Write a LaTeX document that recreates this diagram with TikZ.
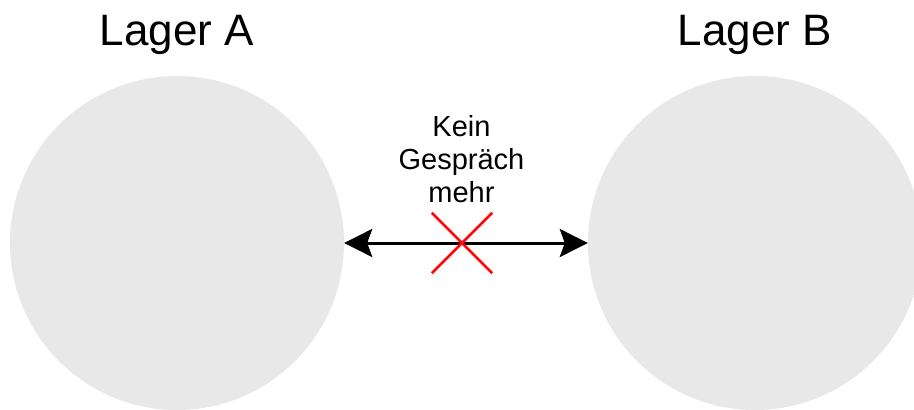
\documentclass[tikz,border=0pt]{standalone}
\usepackage{fontspec}
\setmainfont{Liberation Sans}
\usetikzlibrary{arrows.meta}
\definecolor{lagergray}{RGB}{232,232,232}
\definecolor{stopred}{RGB}{250,10,10}
\tikzset{
    lager/.style={circle, fill=lagergray, inner sep=0pt, minimum size=334pt},
    lagername/.style={anchor=base, font=\fontsize{44}{50}\selectfont},
    talk/.style={<->, >={Stealth[length=28pt,width=28pt,inset=5pt]}, line width=3pt},
    stopline/.style={stopred, line width=2.6pt}
}
\begin{document}
\begin{tikzpicture}[x=1pt,y=-1pt]
            \useasboundingbox (0,0) rectangle (914,410);

            \node[lager] (a) at (177, 243) {};
            \node[lager] (b) at (755, 243) {};
            \node[lagername] (aname) at (177, 45) {Lager A};
            \node[lagername] (bname) at (755, 45) {Lager B};

            \draw[talk] (a) -- (b);

            \node[inner sep=0pt, minimum size=60pt] (stop) at (462, 243) {};
            \draw[stopline] (stop.north west) -- (stop.south east);
            \draw[stopline] (stop.north east) -- (stop.south west);

            \node[anchor=base, align=center, font=\fontsize{29}{33}\selectfont] (note) at (461.5, 202) {Kein\\Gespräch\\mehr};

        \end{tikzpicture}
\end{document}
